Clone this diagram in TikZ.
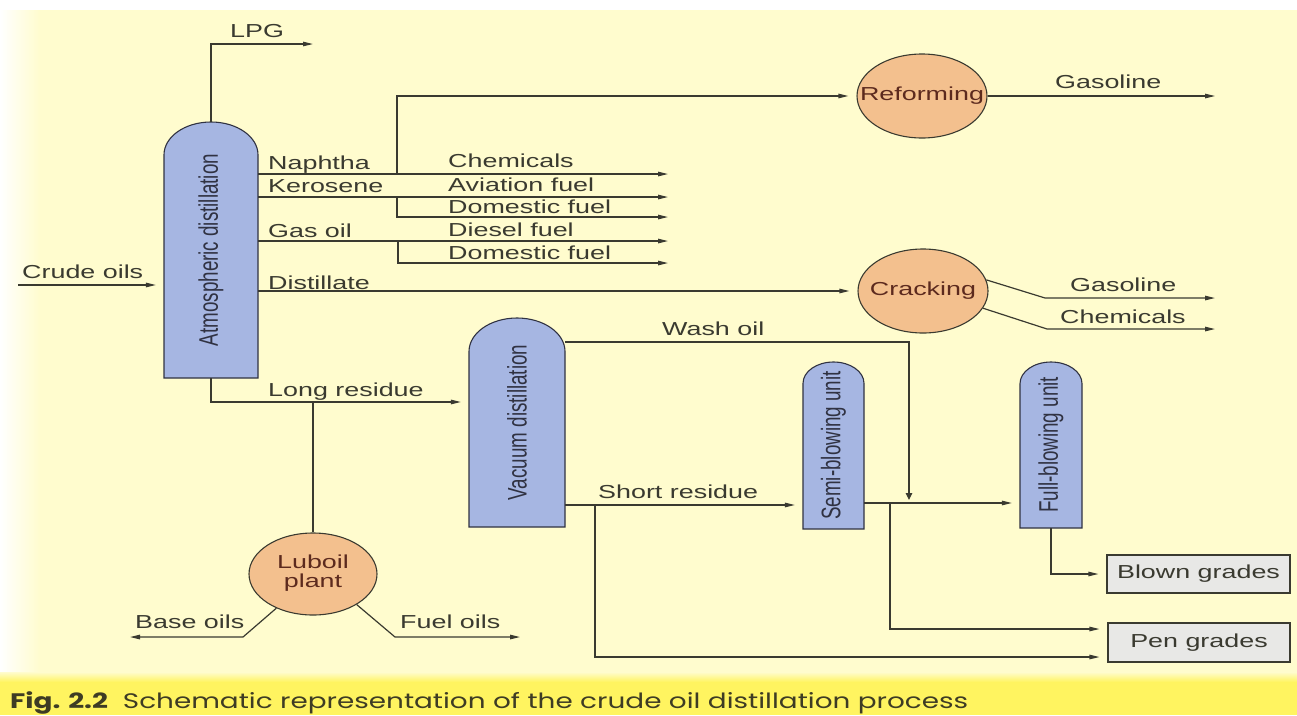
\documentclass[tikz,border=0pt]{standalone}
\usepackage{graphicx}
\usepackage{fontspec}
\setmainfont{Liberation Sans}
\newfontfamily\capfont{Poppins}
\usetikzlibrary{arrows.meta,shapes.geometric}

\definecolor{paper}{RGB}{255,252,206}
\definecolor{band}{RGB}{255,244,96}
\definecolor{ink}{RGB}{58,58,48}
\definecolor{capink}{RGB}{62,60,36}
\definecolor{vesselfill}{RGB}{166,182,226}
\definecolor{vesselink}{RGB}{48,50,66}
\definecolor{plantfill}{RGB}{243,192,142}
\definecolor{plantink}{RGB}{92,42,30}
\definecolor{gradefill}{RGB}{232,232,230}

% the scan is stretched sideways, so the text is too
\newcommand{\wtext}[1]{\scalebox{1.43}[1]{#1}}
\newcommand{\vtext}[1]{\rotatebox{90}{\scalebox{1}[1.43]{#1}}}

% vessel: name, x centre, top, bottom, half width, label
\newcommand{\vessel}[6]{%
  \pgfmathsetmacro{\domeh}{#5/1.43}
  \draw[vesselline] (#2-#5,#4) -- (#2-#5,#3+\domeh)
    arc[start angle=180, end angle=360, x radius=#5, y radius=\domeh]
    -- (#2+#5,#4) -- cycle;
  \node[vesselbox, minimum width=2*#5, minimum height=#4-#3] (#1)
    at (#2,{(#3+#4)/2}) {\vtext{#6}};
}

\tikzset{
  every node/.style={font=\fontsize{18.8}{18}\selectfont, text=ink},
  lbl/.style={anchor=base west, inner sep=0pt},
  vesselline/.style={draw=vesselink, line width=1.1pt, fill=vesselfill},
  vesselbox/.style={rectangle, inner sep=0pt, text=vesselink},
  plant/.style={ellipse, draw=ink, line width=1.1pt, fill=plantfill,
    inner sep=0pt, text=plantink},
  grade/.style={rectangle, draw=ink, line width=1.1pt, fill=gradefill,
    inner sep=0pt, minimum width=183, minimum height=38},
  pipe/.style={draw=ink, line width=1.2pt},
  flow/.style={pipe, -{Triangle[length=10pt,width=4.5pt]}},
  into/.style={flow, shorten >=8pt},
  washdown/.style={pipe, -{Triangle[length=7pt,width=6.5pt]}, shorten >=3pt}
}

\begin{document}
\begin{tikzpicture}[x=1pt, y=-1pt]
  \useasboundingbox (0,0) rectangle (1297,715);

  % background and caption band
  \fill[white] (0,0) rectangle (1297,715);
  \fill[paper] (0,10) rectangle (1297,680);
  \shade[left color=white, right color=paper] (0,10) rectangle (40,680);
  \fill[band] (0,680) rectangle (1297,715);
  \shade[top color=paper, bottom color=band] (0,672) rectangle (1297,682);

  % columns
  \vessel{atm}{211}{122}{378}{47}{Atmospheric distillation}
  \vessel{vac}{517}{318}{527}{48}{Vacuum distillation}
  \vessel{semi}{833.5}{362}{529}{30.5}{Semi-blowing unit}
  \vessel{full}{1051}{362}{528}{31}{Full-blowing unit}

  % process units
  \node[plant, minimum width=130, minimum height=84] (reform) at (922,96)
    {\makebox[0pt]{\wtext{Reforming}}};
  \node[plant, minimum width=130, minimum height=84] (crack) at (923,291)
    {\makebox[0pt]{\wtext{Cracking}}};
  \node[plant, minimum width=128, minimum height=82] (lube) at (313,574)
    {\makebox[0pt]{\wtext{\begin{tabular}{@{}c@{}}Luboil\\plant\end{tabular}}}};

  % products
  \node[grade] (blown) at (1198.5,574) {\wtext{Blown grades}};
  \node[grade, minimum width=182, minimum height=39] (pen) at (1199,642.5)
    {\wtext{Pen grades}};

  % free ends and branch points
  \coordinate (lpgend) at (313,44);
  \coordinate (crudein) at (18,285);
  \coordinate (chemout) at (668,174);
  \coordinate (avout) at (668,197);
  \coordinate (dom1out) at (668,217);
  \coordinate (diesout) at (668,241);
  \coordinate (dom2out) at (668,263);
  \coordinate (nsplit) at (397,174);
  \coordinate (ksplit) at (397,197);
  \coordinate (gsplit) at (398,241);
  \coordinate (gas1out) at (1215,96);
  \coordinate (gas2bend) at (1045,298);
  \coordinate (gas2out) at (1215,298);
  \coordinate (chem2bend) at (1047,329);
  \coordinate (chem2out) at (1215,329);
  \coordinate (lrsplit) at (313,402);
  \coordinate (basebend) at (243,637);
  \coordinate (baseout) at (130,637);
  \coordinate (fuelbend) at (395,637);
  \coordinate (fuelout) at (520,637);
  \coordinate (washtop) at (909,342);
  \coordinate (washin) at (909,503);
  \coordinate (srsplit) at (595,505);
  \coordinate (sbsplit) at (890,503);
  \coordinate (penhigh) at (890,629);
  \coordinate (penlow) at (595,657);

  % atmospheric column streams
  \draw[flow] (atm.north) |- (lpgend);
  \draw[into] (crudein) -- (crudein -| atm.west);
  \draw[flow] (atm.east |- chemout) -- (chemout);
  \draw[flow] (atm.east |- avout) -- (avout);
  \draw[flow] (atm.east |- diesout) -- (diesout);
  \draw[into] (nsplit) |- (reform.west);
  \draw[flow] (ksplit) |- (dom1out);
  \draw[flow] (gsplit) |- (dom2out);
  \draw[into] (atm.east |- crack.west) -- (crack.west);
  \draw[flow] (reform.east) -- (gas1out);
  \draw[flow] (crack.10) -- (gas2bend) -- (gas2out);
  \draw[flow] (crack.-16) -- (chem2bend) -- (chem2out);

  % residue streams
  \draw[into] (atm.south) |- (vac.west |- lrsplit);
  \draw[pipe] (lrsplit) -- (lube.north);
  \draw[flow] (lube.223) -- (basebend) -- (baseout);
  \draw[flow] (lube.-35) -- (fuelbend) -- (fuelout);
  \draw[washdown] (vac.east |- washtop) -- (washtop) -- (washin);
  \draw[into] (vac.east |- srsplit) -- (semi.west |- srsplit);
  \draw[into] (srsplit) |- (pen.west |- penlow);
  \draw[into] (semi.east |- washin) -- (full.west |- washin);
  \draw[into] (sbsplit) |- (pen.west |- penhigh);
  \draw[into] (full.south) |- (blown.west);

  % stream labels
  \node[lbl] (lpgl) at (230,37) {\wtext{LPG}};
  \node[lbl] (crudel) at (22,278) {\wtext{Crude oils}};
  \node[lbl] (naphl) at (268,169) {\wtext{Naphtha}};
  \node[lbl] (kerol) at (268,192) {\wtext{Kerosene}};
  \node[lbl] (gasoill) at (268,237) {\wtext{Gas oil}};
  \node[lbl] (distl) at (268,289) {\wtext{Distillate}};
  \node[lbl] (chem1l) at (448,167) {\wtext{Chemicals}};
  \node[lbl] (avl) at (448,191) {\wtext{Aviation fuel}};
  \node[lbl] (dom1l) at (448,213) {\wtext{Domestic fuel}};
  \node[lbl] (diesl) at (448,236) {\wtext{Diesel fuel}};
  \node[lbl] (dom2l) at (448,259) {\wtext{Domestic fuel}};
  \node[lbl] (gas1l) at (1055,88) {\wtext{Gasoline}};
  \node[lbl] (gas2l) at (1070,291) {\wtext{Gasoline}};
  \node[lbl] (chem2l) at (1060,323) {\wtext{Chemicals}};
  \node[lbl] (longl) at (268,396) {\wtext{Long residue}};
  \node[lbl] (washl) at (662,335) {\wtext{Wash oil}};
  \node[lbl] (shortl) at (598,498) {\wtext{Short residue}};
  \node[lbl] (basel) at (135,628) {\wtext{Base oils}};
  \node[lbl] (fuell) at (400,628) {\wtext{Fuel oils}};

  % caption
  \node[lbl, text=capink] (caption) at (10,708)
    {\resizebox{958pt}{\height}{\capfont\fontsize{21}{24}\selectfont
      \textbf{Fig. 2.2}\ \ Schematic representation of the crude oil distillation process}};
\end{tikzpicture}
\end{document}
